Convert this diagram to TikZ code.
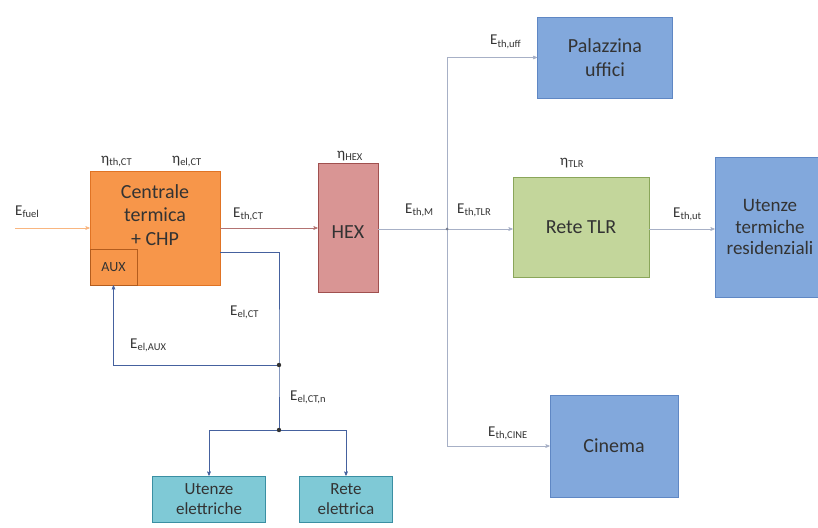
\documentclass[tikz,border=0pt]{standalone}
\usepackage{fontspec}
\setmainfont{Carlito}
\usetikzlibrary{positioning, arrows}
\definecolor{chpfill}{HTML}{F7964A}
\definecolor{chpdraw}{HTML}{E07324}
\definecolor{hexfill}{HTML}{D99594}
\definecolor{hexdraw}{HTML}{A0504F}
\definecolor{userfill}{HTML}{82A8DC}
\definecolor{userdraw}{HTML}{5F87C4}
\definecolor{tlrfill}{HTML}{C3D69B}
\definecolor{tlrdraw}{HTML}{8AA65A}
\definecolor{elfill}{HTML}{7FC9D6}
\definecolor{eldraw}{HTML}{3A8FA3}
\definecolor{elline}{HTML}{45619E}
\definecolor{thline}{HTML}{A7B0C6}
\tikzset{x=1pt, y=-1pt, % one unit = one pixel of the reference
every node/.style={font=\fontsize{20}{23.5}\selectfont}, % text in the boxes
block/.style={ % common look of all boxes
draw, semithick, align=center, inner sep=0pt},
chpbox/.style={block, fill=chpfill, draw=chpdraw, text=black!80},
hexbox/.style={block, fill=hexfill, draw=hexdraw, text=black!80},
userbox/.style={block, fill=userfill, draw=userdraw, text=black!80},
tlrbox/.style={block, fill=tlrfill, draw=tlrdraw, text=black!80},
elbox/.style={block, fill=elfill, draw=eldraw, text=black!80,
font=\fontsize{17}{20}\selectfont},
lbl/.style={font=\fontsize{15}{17}\selectfont, inner sep=0pt,
anchor=base west, text=black!80}, % energy labels
flow/.style={->, >=stealth', semithick}, % thermal arrows
elflow/.style={->, >=stealth', semithick, elline}} % electric arrows

\begin{document}
\begin{tikzpicture}
    \useasboundingbox[fill=white] (0,0) rectangle (818,527);
    
    % boxes
    \node[chpbox, minimum width=130, minimum height=114] (chp) at (155,228) {};
    \node[align=center, text=black!80] (chptext) at (155,215) {Centrale\\termica\\+ CHP};
    \node[chpbox, draw=chpdraw!80!black, minimum width=47, minimum height=36,
      font=\fontsize{14}{15}\selectfont, anchor=south west] (aux) at (chp.south west) {AUX};
    \node[hexbox, minimum width=60, minimum height=129] (hex) at (348,228) {};
    \node[text=black!80] (hextext) at (348,232) {HEX};
    \node[userbox, minimum width=135, minimum height=81] (uff) at (605,57.5) {Palazzina\\uffici};
    \node[tlrbox, minimum width=136, minimum height=100] (tlr) at (581,227) {Rete TLR};
    \node[userbox, minimum width=110, minimum height=140, font=\fontsize{19}{21.5}\selectfont]
      (res) at (770,227) {Utenze\\termiche\\residenziali};
    \node[userbox, minimum width=128, minimum height=102] (cine) at (614,446) {Cinema};
    \node[elbox, minimum width=113, minimum height=46] (elut) at (209,499) {Utenze\\elettriche};
    \node[elbox, minimum width=93, minimum height=46] (elrete) at (346,499) {Rete\\elettrica};
    
    % junctions
    \coordinate (jm) at (447,229);
    \coordinate (elout) at (220,252);
    \coordinate (j1) at (279,365);
    \coordinate (j2) at (279,430);
    \coordinate (fuel) at (15,228);
    
    % thermal flows
    \draw[flow, chpfill!70] (fuel) -- (chp.west |- fuel);
    \draw[flow, hexdraw!80] (chp.east |- fuel) -- (hex.west |- fuel);
    \draw[semithick, thline] (hex.east |- jm) -- (jm);
    \draw[flow, thline] (jm) -- (tlr.west |- jm);
    \draw[flow, thline] (jm) |- (uff.west);
    \draw[flow, thline] (jm) |- (cine.west);
    \draw[flow, thline] (tlr.east |- jm) -- (res.west |- jm);
    \fill[thline!70!black] (jm) circle (1.5);
    
    % electric flows
    \draw[semithick, elline] (elout) -| (j1) -- (j2);
    \draw[elflow] (j1) -| (aux.south);
    \draw[elflow] (j2) -| (elut.north);
    \draw[elflow] (j2) -| (elrete.north);
    \fill[black!80] (j1) circle (2.2) (j2) circle (2.2);
    
    % labels
    \node[lbl] (lfuel) at (15,215) {E\textsubscript{fuel}};
    \node[lbl] (ethct) at (101,163) {η\textsubscript{th,CT}};
    \node[lbl] (eelct) at (172,163) {η\textsubscript{el,CT}};
    \node[lbl] (lthct) at (233,217) {E\textsubscript{th,CT}};
    \node[lbl] (ehex) at (337,158) {η\textsubscript{HEX}};
    \node[lbl] (lthm) at (405,213) {E\textsubscript{th,M}};
    \node[lbl] (lthtlr) at (457,213) {E\textsubscript{th,TLR}};
    \node[lbl] (etlr) at (560,165) {η\textsubscript{TLR}};
    \node[lbl] (lthut) at (673,217) {E\textsubscript{th,ut}};
    \node[lbl] (lthuff) at (490,45) {E\textsubscript{th,uff}};
    \node[lbl] (lthcine) at (488,436) {E\textsubscript{th,CINE}};
    \node[lbl] (lelct) at (230,315) {E\textsubscript{el,CT}};
    \node[lbl] (lelaux) at (130,348) {E\textsubscript{el,AUX}};
    \node[lbl] (lelctn) at (290,400) {E\textsubscript{el,CT,n}};
    
\end{tikzpicture}
\end{document}
